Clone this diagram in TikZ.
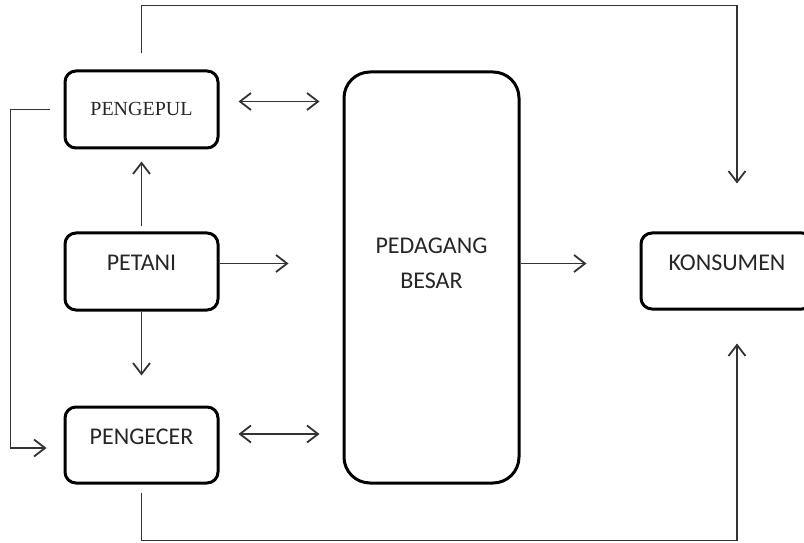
\documentclass[tikz,border=0pt]{standalone}
\usepackage{fontspec}
\setmainfont{Carlito}
\newfontfamily\serifbox{Liberation Serif}
\usetikzlibrary{arrows.meta,calc}
\tikzstyle{pbox}=[draw=black, line width=3pt, rounded corners=11pt, minimum width=153pt, minimum height=77pt, inner sep=0pt, text=black!85, font=\fontsize{24}{29}\selectfont, text height=16pt, text depth=18pt]
\tikzstyle{serifpbox}=[pbox, font=\serifbox\fontsize{20}{24}\selectfont, text height=13pt, text depth=0pt]
\tikzstyle{bigbox}=[draw=black, line width=3pt, rounded corners=26pt, minimum width=175pt, minimum height=411pt, inner sep=0pt, text=black!85, align=center, font=\fontsize{24}{35}\selectfont, text height=40pt, text depth=18pt]
\tikzstyle{conn}=[line width=1.8pt, draw=black!80]
\tikzstyle{arr}=[conn, -{Straight Barb[length=11pt,width=17pt]}]
\tikzstyle{dblarr}=[conn, {Straight Barb[length=11pt,width=17pt]}-{Straight Barb[length=11pt,width=17pt]}]

\begin{document}
\begin{tikzpicture}[x=1pt,y=1pt]
	\useasboundingbox (0,0) rectangle (804,542);
	\node[serifpbox] (pengepul) at (141.5,432.5) {PENGEPUL};
	\node[pbox] (petani) at (141.5,270.5) {PETANI};
	\node[pbox, minimum height=76pt] (pengecer) at (141.5,97) {PENGECER};
	\node[bigbox] (besar) at (431.5,264.5) {PEDAGANG\\BESAR};
	\node[pbox, minimum width=172pt, minimum height=76pt] (konsumen) at (727,271) {KONSUMEN};
	% petani ke pengepul, pengecer, pedagang besar
	\draw[arr, shorten <=5pt, shorten >=12pt] (petani) -- (pengepul);
	\draw[arr, shorten >=30pt] (petani) -- (pengecer);
	\draw[arr] ([yshift=8pt]petani.east) -- ++(69,0);
	\draw[dblarr, shorten <=19pt, shorten >=23pt] ([yshift=8pt]pengepul.east) -- ([yshift=8pt]pengepul.east -| besar.west);
	\draw[dblarr, shorten <=19pt, shorten >=23pt] ([yshift=11pt]pengecer.east) -- ([yshift=11pt]pengecer.east -| besar.west);
	\draw[arr, shorten >=53pt] ([yshift=14pt]besar.east) -- ([yshift=14pt]besar.east -| konsumen.west);
	% jalur luar
	\draw[arr] ([yshift=16pt]pengepul.north) -- ++(0,48) -| ([xshift=10pt,yshift=48pt]konsumen.north);
	\draw[arr] ([xshift=-14pt]pengepul.west) -- ++(-39,0) |- ([xshift=-17pt,yshift=-3pt]pengecer.west);
	\draw[arr] ([yshift=-8pt]pengecer.south) -- ++(0,-48) -| ([xshift=10pt,yshift=-33pt]konsumen.south);
\end{tikzpicture}
\end{document}
